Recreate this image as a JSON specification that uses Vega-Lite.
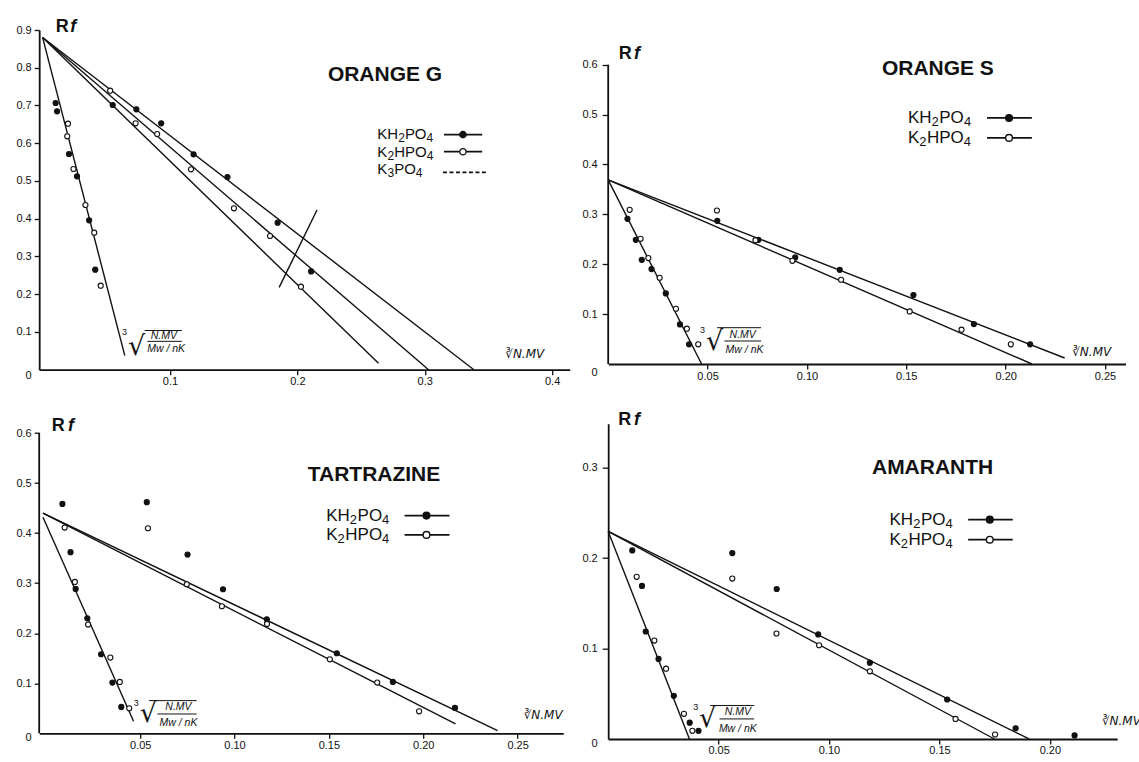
{
  "$schema": "https://vega.github.io/schema/vega-lite/v6.json",
  "padding": {"left": 15.2, "top": 17, "right": 2, "bottom": 2},
  "background": "white",
  "config": {
    "view": {"stroke": null},
    "font": "Liberation Sans",
    "axis": {"labelFont": "Liberation Sans", "labelFontSize": 11, "labelColor": "#111", "domainColor": "#111", "tickColor": "#111", "domainWidth": 1.8, "tickWidth": 1.3, "grid": false, "labelFlush": false, "labelOverlap": false, "title": null}
  },
  "datasets": {
    "points": [
      {"p":"OG","s":"KH2PO4","x":0.0102,"y":0.7066},{"p":"OG","s":"KH2PO4","x":0.0113,"y":0.6845},{"p":"OG","s":"KH2PO4","x":0.0207,"y":0.5715},{"p":"OG","s":"KH2PO4","x":0.0270,"y":0.5123},{"p":"OG","s":"KH2PO4","x":0.0365,"y":0.3957},{"p":"OG","s":"KH2PO4","x":0.0413,"y":0.265},{"p":"OG","s":"KH2PO4","x":0.0550,"y":0.7013},{"p":"OG","s":"KH2PO4","x":0.0736,"y":0.6898},{"p":"OG","s":"KH2PO4","x":0.0931,"y":0.6527},{"p":"OG","s":"KH2PO4","x":0.1185,"y":0.5706},{"p":"OG","s":"KH2PO4","x":0.1451,"y":0.5105},{"p":"OG","s":"KH2PO4","x":0.1845,"y":0.3895},{"p":"OG","s":"KH2PO4","x":0.2108,"y":0.2605},
      {"p":"OG","s":"K2HPO4","x":0.0199,"y":0.6518},{"p":"OG","s":"K2HPO4","x":0.0193,"y":0.6183},{"p":"OG","s":"K2HPO4","x":0.0242,"y":0.5317},{"p":"OG","s":"K2HPO4","x":0.0336,"y":0.4363},{"p":"OG","s":"K2HPO4","x":0.0405,"y":0.363},{"p":"OG","s":"K2HPO4","x":0.0456,"y":0.2226},{"p":"OG","s":"K2HPO4","x":0.0530,"y":0.7393},{"p":"OG","s":"K2HPO4","x":0.0730,"y":0.6527},{"p":"OG","s":"K2HPO4","x":0.0899,"y":0.6245},{"p":"OG","s":"K2HPO4","x":0.1165,"y":0.5308},{"p":"OG","s":"K2HPO4","x":0.1502,"y":0.4275},{"p":"OG","s":"K2HPO4","x":0.1785,"y":0.3542},{"p":"OG","s":"K2HPO4","x":0.2028,"y":0.2199},
      {"p":"OS","s":"KH2PO4","x":0.0097,"y":0.2911},{"p":"OS","s":"KH2PO4","x":0.0139,"y":0.2490},{"p":"OS","s":"KH2PO4","x":0.0169,"y":0.2089},{"p":"OS","s":"KH2PO4","x":0.0218,"y":0.1903},{"p":"OS","s":"KH2PO4","x":0.0290,"y":0.1415},{"p":"OS","s":"KH2PO4","x":0.0361,"y":0.0794},{"p":"OS","s":"KH2PO4","x":0.0407,"y":0.0394},{"p":"OS","s":"KH2PO4","x":0.0549,"y":0.2870},{"p":"OS","s":"KH2PO4","x":0.0756,"y":0.2490},{"p":"OS","s":"KH2PO4","x":0.0941,"y":0.2136},{"p":"OS","s":"KH2PO4","x":0.1165,"y":0.1889},{"p":"OS","s":"KH2PO4","x":0.1536,"y":0.1382},{"p":"OS","s":"KH2PO4","x":0.1840,"y":0.0801},{"p":"OS","s":"KH2PO4","x":0.2123,"y":0.0394},
      {"p":"OS","s":"K2HPO4","x":0.0108,"y":0.3091},{"p":"OS","s":"K2HPO4","x":0.0163,"y":0.2510},{"p":"OS","s":"K2HPO4","x":0.0202,"y":0.2123},{"p":"OS","s":"K2HPO4","x":0.0259,"y":0.1729},{"p":"OS","s":"K2HPO4","x":0.0341,"y":0.1108},{"p":"OS","s":"K2HPO4","x":0.0396,"y":0.0708},{"p":"OS","s":"K2HPO4","x":0.0453,"y":0.0394},{"p":"OS","s":"K2HPO4","x":0.0547,"y":0.3077},{"p":"OS","s":"K2HPO4","x":0.0741,"y":0.2483},{"p":"OS","s":"K2HPO4","x":0.0927,"y":0.2069},{"p":"OS","s":"K2HPO4","x":0.1172,"y":0.1689},{"p":"OS","s":"K2HPO4","x":0.1517,"y":0.1055},{"p":"OS","s":"K2HPO4","x":0.1778,"y":0.0688},{"p":"OS","s":"K2HPO4","x":0.2026,"y":0.0394},
      {"p":"TZ","s":"KH2PO4","x":0.0088,"y":0.4584},{"p":"TZ","s":"KH2PO4","x":0.0131,"y":0.3618},{"p":"TZ","s":"KH2PO4","x":0.0158,"y":0.2885},{"p":"TZ","s":"KH2PO4","x":0.0220,"y":0.2298},{"p":"TZ","s":"KH2PO4","x":0.0293,"y":0.1579},{"p":"TZ","s":"KH2PO4","x":0.0353,"y":0.1013},{"p":"TZ","s":"KH2PO4","x":0.0400,"y":0.0526},{"p":"TZ","s":"KH2PO4","x":0.0535,"y":0.4617},{"p":"TZ","s":"KH2PO4","x":0.0751,"y":0.3571},{"p":"TZ","s":"KH2PO4","x":0.0939,"y":0.2878},{"p":"TZ","s":"KH2PO4","x":0.1171,"y":0.2278},{"p":"TZ","s":"KH2PO4","x":0.1542,"y":0.1599},{"p":"TZ","s":"KH2PO4","x":0.1839,"y":0.1026},{"p":"TZ","s":"KH2PO4","x":0.2168,"y":0.0506},
      {"p":"TZ","s":"K2HPO4","x":0.0100,"y":0.4111},{"p":"TZ","s":"K2HPO4","x":0.0154,"y":0.3025},{"p":"TZ","s":"K2HPO4","x":0.0224,"y":0.2172},{"p":"TZ","s":"K2HPO4","x":0.0342,"y":0.1512},{"p":"TZ","s":"K2HPO4","x":0.0392,"y":0.1026},{"p":"TZ","s":"K2HPO4","x":0.0442,"y":0.0500},{"p":"TZ","s":"K2HPO4","x":0.0541,"y":0.4097},{"p":"TZ","s":"K2HPO4","x":0.0747,"y":0.2978},{"p":"TZ","s":"K2HPO4","x":0.0933,"y":0.2538},{"p":"TZ","s":"K2HPO4","x":0.1172,"y":0.2185},{"p":"TZ","s":"K2HPO4","x":0.1505,"y":0.1479},{"p":"TZ","s":"K2HPO4","x":0.1756,"y":0.1013},{"p":"TZ","s":"K2HPO4","x":0.1978,"y":0.0440},
      {"p":"AM","s":"KH2PO4","x":0.0109,"y":0.2085},{"p":"AM","s":"KH2PO4","x":0.0153,"y":0.1693},{"p":"AM","s":"KH2PO4","x":0.0170,"y":0.1189},{"p":"AM","s":"KH2PO4","x":0.0228,"y":0.0885},{"p":"AM","s":"KH2PO4","x":0.0297,"y":0.0478},{"p":"AM","s":"KH2PO4","x":0.0369,"y":0.0181},{"p":"AM","s":"KH2PO4","x":0.0409,"y":0.009},{"p":"AM","s":"KH2PO4","x":0.0562,"y":0.2056},{"p":"AM","s":"KH2PO4","x":0.0763,"y":0.1659},{"p":"AM","s":"KH2PO4","x":0.0951,"y":0.1156},{"p":"AM","s":"KH2PO4","x":0.1185,"y":0.0844},{"p":"AM","s":"KH2PO4","x":0.1535,"y":0.0437},{"p":"AM","s":"KH2PO4","x":0.1845,"y":0.0119},{"p":"AM","s":"KH2PO4","x":0.2112,"y":0.004},
      {"p":"AM","s":"K2HPO4","x":0.0129,"y":0.1793},{"p":"AM","s":"K2HPO4","x":0.0209,"y":0.1089},{"p":"AM","s":"K2HPO4","x":0.0262,"y":0.0778},{"p":"AM","s":"K2HPO4","x":0.0343,"y":0.0278},{"p":"AM","s":"K2HPO4","x":0.0381,"y":0.009},{"p":"AM","s":"K2HPO4","x":0.0562,"y":0.1774},{"p":"AM","s":"K2HPO4","x":0.0762,"y":0.1167},{"p":"AM","s":"K2HPO4","x":0.0955,"y":0.1037},{"p":"AM","s":"K2HPO4","x":0.1185,"y":0.0748},{"p":"AM","s":"K2HPO4","x":0.1573,"y":0.0222},{"p":"AM","s":"K2HPO4","x":0.1752,"y":0.005}
    ],
    "segs": [
      {"p":"OG","k":"fit","x":0,"y":0.88,"x2":0.0645,"y2":0.0371},
      {"p":"OG","k":"fit","x":0,"y":0.88,"x2":0.2637,"y2":0.0168},
      {"p":"OG","k":"fit","x":0,"y":0.88,"x2":0.303,"y2":0},
      {"p":"OG","k":"fit","x":0,"y":0.88,"x2":0.3386,"y2":0},
      {"p":"OG","k":"fit","x":0.1857,"y":0.2182,"x2":0.2154,"y2":0.4231},
      {"p":"OG","k":"frac","x":0.0822,"y":0.0751,"x2":0.1093,"y2":0.0751},
      {"p":"OG","k":"frac","x":0.0800,"y":0.1038,"x2":0.1093,"y2":0.1038},
      {"p":"OG","k":"leg","x":0.3151,"y":0.6227,"x2":0.3451,"y2":0.6227},
      {"p":"OG","k":"leg","x":0.3151,"y":0.5776,"x2":0.3451,"y2":0.5776},
      {"p":"OG","k":"dash","x":0.3143,"y":0.5229,"x2":0.3480,"y2":0.5229},
      {"p":"OS","k":"fit","x":0,"y":0.3692,"x2":0.047,"y2":0},
      {"p":"OS","k":"fit","x":0,"y":0.3692,"x2":0.2297,"y2":0.012},
      {"p":"OS","k":"fit","x":0,"y":0.3692,"x2":0.2132,"y2":0},
      {"p":"OS","k":"axis","x":0,"y":0,"x2":0,"y2":0.6},
      {"p":"OS","k":"frac","x":0.0585,"y":0.0461,"x2":0.0769,"y2":0.0461},
      {"p":"OS","k":"frac","x":0.0548,"y":0.0728,"x2":0.0769,"y2":0.0728},
      {"p":"OS","k":"leg","x":0.1906,"y":0.4933,"x2":0.2132,"y2":0.4933},
      {"p":"OS","k":"leg","x":0.1906,"y":0.4533,"x2":0.2132,"y2":0.4533},
      {"p":"TZ","k":"fit","x":-0.0015,"y":0.4397,"x2":0.2394,"y2":0.0053},
      {"p":"TZ","k":"fit","x":-0.0015,"y":0.4397,"x2":0.2171,"y2":0.0187},
      {"p":"TZ","k":"fit","x":-0.0015,"y":0.4317,"x2":0.0465,"y2":0.024},
      {"p":"TZ","k":"axis","x":-0.0035,"y":0,"x2":-0.0035,"y2":0.6},
      {"p":"TZ","k":"frac","x":0.0591,"y":0.0386,"x2":0.0799,"y2":0.0386},
      {"p":"TZ","k":"frac","x":0.0547,"y":0.0653,"x2":0.0799,"y2":0.0653},
      {"p":"TZ","k":"leg","x":0.1901,"y":0.435,"x2":0.2139,"y2":0.435},
      {"p":"TZ","k":"leg","x":0.1901,"y":0.3964,"x2":0.2139,"y2":0.3964},
      {"p":"AM","k":"fit","x":0,"y":0.2296,"x2":0.0368,"y2":0},
      {"p":"AM","k":"fit","x":0,"y":0.2296,"x2":0.1906,"y2":0},
      {"p":"AM","k":"fit","x":0,"y":0.2296,"x2":0.1749,"y2":0},
      {"p":"AM","k":"frac","x":0.0504,"y":0.0222,"x2":0.0661,"y2":0.0222},
      {"p":"AM","k":"frac","x":0.0462,"y":0.037,"x2":0.0661,"y2":0.037},
      {"p":"AM","k":"leg","x":0.163,"y":0.2426,"x2":0.1832,"y2":0.2426},
      {"p":"AM","k":"leg","x":0.163,"y":0.2204,"x2":0.1832,"y2":0.2204}
    ],
    "legsym": [
      {"p":"OG","s":"KH2PO4","x":0.33,"y":0.6227},{"p":"OG","s":"K2HPO4","x":0.33,"y":0.5776},
      {"p":"OS","s":"KH2PO4","x":0.2017,"y":0.4933},{"p":"OS","s":"K2HPO4","x":0.2017,"y":0.4533},
      {"p":"TZ","s":"KH2PO4","x":0.2017,"y":0.435},{"p":"TZ","s":"K2HPO4","x":0.2017,"y":0.3964},
      {"p":"AM","s":"KH2PO4","x":0.1728,"y":0.2426},{"p":"AM","s":"K2HPO4","x":0.1728,"y":0.2204}
    ],
    "labels": [
      {"p":"OG","k":"title","x":0.2688,"y":0.7817,"t":"ORANGE G"},
      {"p":"OG","k":"leg","x":0.2628,"y":0.6245,"t":"KH"},{"p":"OG","k":"sub","x":0.2791,"y":0.6245,"t":"2"},{"p":"OG","k":"leg","x":0.2844,"y":0.6245,"t":"PO"},{"p":"OG","k":"sub","x":0.3014,"y":0.6245,"t":"4"},
      {"p":"OG","k":"leg","x":0.2628,"y":0.5759,"t":"K"},{"p":"OG","k":"sub","x":0.2707,"y":0.5759,"t":"2"},{"p":"OG","k":"leg","x":0.2760,"y":0.5759,"t":"HPO"},{"p":"OG","k":"sub","x":0.3015,"y":0.5759,"t":"4"},
      {"p":"OG","k":"leg","x":0.2628,"y":0.5317,"t":"K"},{"p":"OG","k":"sub","x":0.2707,"y":0.5317,"t":"3"},{"p":"OG","k":"leg","x":0.2760,"y":0.5317,"t":"PO"},{"p":"OG","k":"sub","x":0.2930,"y":0.5317,"t":"4"},
      {"p":"OG","k":"R","x":0.0102,"y":0.9088,"t":"R"},
      {"p":"OG","k":"f","x":0.0216,"y":0.9088,"t":"f"},
      {"p":"OG","k":"var","x":0.3785,"y":0.0424,"t":"∛N.MV"},
      {"p":"OG","k":"rad","x":0.0737,"y":0.060,"t":"√"},
      {"p":"OG","k":"sup","x":0.0643,"y":0.0988,"t":"3"},
      {"p":"OG","k":"frac","x":0.0951,"y":0.0901,"t":"N.MV"},
      {"p":"OG","k":"frac","x":0.0970,"y":0.0548,"t":"Mw / nK"},
      {"p":"OS","k":"title","x":0.1659,"y":0.5915,"t":"ORANGE S"},
      {"p":"OS","k":"leg","x":0.1508,"y":0.4933,"t":"KH"},{"p":"OS","k":"sub","x":0.1627,"y":0.4933,"t":"2"},{"p":"OS","k":"leg","x":0.1666,"y":0.4933,"t":"PO"},{"p":"OS","k":"sub","x":0.1790,"y":0.4933,"t":"4"},
      {"p":"OS","k":"leg","x":0.1508,"y":0.4533,"t":"K"},{"p":"OS","k":"sub","x":0.1565,"y":0.4533,"t":"2"},{"p":"OS","k":"leg","x":0.1604,"y":0.4533,"t":"HPO"},{"p":"OS","k":"sub","x":0.1789,"y":0.4533,"t":"4"},
      {"p":"OS","k":"R","x":0.0053,"y":0.6215,"t":"R"},
      {"p":"OS","k":"f","x":0.0130,"y":0.6215,"t":"f"},
      {"p":"OS","k":"var","x":0.2433,"y":0.024,"t":"∛N.MV"},
      {"p":"OS","k":"rad","x":0.0535,"y":0.0441,"t":"√"},
      {"p":"OS","k":"sup","x":0.0475,"y":0.0674,"t":"3"},
      {"p":"OS","k":"frac","x":0.0677,"y":0.0574,"t":"N.MV"},
      {"p":"OS","k":"frac","x":0.0686,"y":0.0287,"t":"Mw / nK"},
      {"p":"TZ","k":"title","x":0.1739,"y":0.5163,"t":"TARTRAZINE"},
      {"p":"TZ","k":"leg","x":0.1486,"y":0.435,"t":"KH"},{"p":"TZ","k":"sub","x":0.1611,"y":0.435,"t":"2"},{"p":"TZ","k":"leg","x":0.1652,"y":0.435,"t":"PO"},{"p":"TZ","k":"sub","x":0.1782,"y":0.435,"t":"4"},
      {"p":"TZ","k":"leg","x":0.1486,"y":0.3964,"t":"K"},{"p":"TZ","k":"sub","x":0.1546,"y":0.3964,"t":"2"},{"p":"TZ","k":"leg","x":0.1587,"y":0.3964,"t":"HPO"},{"p":"TZ","k":"sub","x":0.1782,"y":0.3964,"t":"4"},
      {"p":"TZ","k":"R","x":0.0032,"y":0.6136,"t":"R"},
      {"p":"TZ","k":"f","x":0.0117,"y":0.6136,"t":"f"},
      {"p":"TZ","k":"var","x":0.2635,"y":0.0366,"t":"∛N.MV"},
      {"p":"TZ","k":"rad","x":0.0543,"y":0.0386,"t":"√"},
      {"p":"TZ","k":"sup","x":0.0479,"y":0.06,"t":"3"},
      {"p":"TZ","k":"frac","x":0.0703,"y":0.052,"t":"N.MV"},
      {"p":"TZ","k":"frac","x":0.0703,"y":0.0207,"t":"Mw / nK"},
      {"p":"AM","k":"title","x":0.1469,"y":0.30,"t":"AMARANTH"},
      {"p":"AM","k":"leg","x":0.1274,"y":0.2426,"t":"KH"},{"p":"AM","k":"sub","x":0.1381,"y":0.2426,"t":"2"},{"p":"AM","k":"leg","x":0.1416,"y":0.2426,"t":"PO"},{"p":"AM","k":"sub","x":0.1527,"y":0.2426,"t":"4"},
      {"p":"AM","k":"leg","x":0.1274,"y":0.2204,"t":"K"},{"p":"AM","k":"sub","x":0.1325,"y":0.2204,"t":"2"},{"p":"AM","k":"leg","x":0.1360,"y":0.2204,"t":"HPO"},{"p":"AM","k":"sub","x":0.1527,"y":0.2204,"t":"4"},
      {"p":"AM","k":"R","x":0.0046,"y":0.353,"t":"R"},
      {"p":"AM","k":"f","x":0.0117,"y":0.353,"t":"f"},
      {"p":"AM","k":"var","x":0.2324,"y":0.0204,"t":"∛N.MV"},
      {"p":"AM","k":"rad","x":0.0450,"y":0.0222,"t":"√"},
      {"p":"AM","k":"sup","x":0.0396,"y":0.0352,"t":"3"},
      {"p":"AM","k":"frac","x":0.0587,"y":0.0296,"t":"N.MV"},
      {"p":"AM","k":"frac","x":0.0587,"y":0.0111,"t":"Mw / nK"}
    ]
  },
  "columns": 2,
  "spacing": {"row": 53.7, "column": 38},
  "bounds": "flush",
  "align": "each",
  "concat": [
    {
      "width": 530.5, "height": 339.7,
      "encoding": {
        "x": {"field": "x", "type": "quantitative", "scale": {"domain": [-0.0027, 0.4138], "nice": false, "zero": false},
              "axis": {"values": [0.1, 0.2, 0.3, 0.4], "format": ".1f", "tickSize": 5, "labelPadding": 1}},
        "y": {"field": "y", "type": "quantitative", "scale": {"domain": [0, 0.9], "nice": false, "zero": false},
              "axis": {"values": [0, 0.1, 0.2, 0.3, 0.4, 0.5, 0.6, 0.7, 0.8, 0.9], "labelExpr": "datum.value === 0 ? '0' : format(datum.value, '.1f')", "tickSize": 5, "labelPadding": 3,
                       "labelOffset": {"condition": {"test": "datum.value === 0", "value": 6}, "value": 0},
                       "tickOpacity": {"condition": {"test": "datum.value === 0", "value": 0}, "value": 1}}}
      },
      "layer": [
        {"data": {"name": "segs"}, "transform": [{"filter": "datum.p === 'OG' && datum.k === 'fit'"}], "mark": {"type": "rule", "strokeWidth": 1.4, "color": "#111"}, "encoding": {"x2": {"field": "x2"}, "y2": {"field": "y2"}}},
        {"data": {"name": "segs"}, "transform": [{"filter": "datum.p === 'OG' && datum.k === 'frac'"}], "mark": {"type": "rule", "strokeWidth": 1, "color": "#111"}, "encoding": {"x2": {"field": "x2"}, "y2": {"field": "y2"}}},
        {"data": {"name": "segs"}, "transform": [{"filter": "datum.p === 'OG' && datum.k === 'leg'"}], "mark": {"type": "rule", "strokeWidth": 1.8, "color": "#111"}, "encoding": {"x2": {"field": "x2"}, "y2": {"field": "y2"}}},
        {"data": {"name": "segs"}, "transform": [{"filter": "datum.p === 'OG' && datum.k === 'dash'"}], "mark": {"type": "rule", "strokeWidth": 1.6, "strokeDash": [4, 2.5], "color": "#111"}, "encoding": {"x2": {"field": "x2"}, "y2": {"field": "y2"}}},
        {"data": {"name": "points"}, "transform": [{"filter": "datum.p === 'OG'"}], "mark": {"type": "circle", "size": 26, "stroke": "#111", "strokeWidth": 1.1, "opacity": 1}, "encoding": {"fill": {"field": "s", "type": "nominal", "scale": {"domain": ["KH2PO4", "K2HPO4"], "range": ["#111111", "#ffffff"]}, "legend": null}}},
        {"data": {"name": "legsym"}, "transform": [{"filter": "datum.p === 'OG'"}], "mark": {"type": "circle", "size": 40, "stroke": "#111", "strokeWidth": 1.3, "opacity": 1}, "encoding": {"fill": {"field": "s", "type": "nominal", "scale": {"domain": ["KH2PO4", "K2HPO4"], "range": ["#111111", "#ffffff"]}, "legend": null}}},
        {"data": {"name": "labels"}, "transform": [{"filter": "datum.p === 'OG' && datum.k === 'title'"}], "mark": {"type": "text", "font": "Liberation Sans", "fontWeight": "bold", "fontSize": 21, "align": "center", "baseline": "middle", "color": "#111"}, "encoding": {"text": {"field": "t"}}},
        {"data": {"name": "labels"}, "transform": [{"filter": "datum.p === 'OG' && datum.k === 'leg'"}], "mark": {"type": "text", "font": "Liberation Sans", "fontSize": 15, "align": "left", "baseline": "middle", "color": "#111"}, "encoding": {"text": {"field": "t"}}},
        {"data": {"name": "labels"}, "transform": [{"filter": "datum.p === 'OG' && datum.k === 'sub'"}], "mark": {"type": "text", "font": "Liberation Sans", "fontSize": 12, "align": "left", "baseline": "middle", "dy": 4, "color": "#111"}, "encoding": {"text": {"field": "t"}}},
        {"data": {"name": "labels"}, "transform": [{"filter": "datum.p === 'OG' && datum.k === 'R'"}], "mark": {"type": "text", "font": "Liberation Sans", "fontWeight": "bold", "fontSize": 18, "align": "left", "baseline": "middle", "color": "#111"}, "encoding": {"text": {"field": "t"}}},
        {"data": {"name": "labels"}, "transform": [{"filter": "datum.p === 'OG' && datum.k === 'f'"}], "mark": {"type": "text", "font": "Liberation Sans", "fontWeight": "bold", "fontStyle": "italic", "fontSize": 18, "align": "left", "baseline": "middle", "color": "#111"}, "encoding": {"text": {"field": "t"}}},
        {"data": {"name": "labels"}, "transform": [{"filter": "datum.p === 'OG' && datum.k === 'var'"}], "mark": {"type": "text", "font": "DejaVu Sans", "fontStyle": "italic", "fontSize": 12, "align": "center", "baseline": "middle", "color": "#111"}, "encoding": {"text": {"field": "t"}}},
        {"data": {"name": "labels"}, "transform": [{"filter": "datum.p === 'OG' && datum.k === 'rad'"}], "mark": {"type": "text", "font": "DejaVu Sans", "fontSize": 27, "align": "center", "baseline": "middle", "color": "#111"}, "encoding": {"text": {"field": "t"}}},
        {"data": {"name": "labels"}, "transform": [{"filter": "datum.p === 'OG' && datum.k === 'sup'"}], "mark": {"type": "text", "font": "Liberation Sans", "fontSize": 9, "align": "center", "baseline": "middle", "color": "#111"}, "encoding": {"text": {"field": "t"}}},
        {"data": {"name": "labels"}, "transform": [{"filter": "datum.p === 'OG' && datum.k === 'frac'"}], "mark": {"type": "text", "font": "Liberation Sans", "fontStyle": "italic", "fontSize": 10.5, "align": "center", "baseline": "middle", "color": "#111"}, "encoding": {"text": {"field": "t"}}}
      ]
    },
    {
      "width": 517.3, "height": 334,
      "encoding": {
        "x": {"field": "x", "type": "quantitative", "scale": {"domain": [0, 0.2603], "nice": false, "zero": false},
              "axis": {"values": [0.05, 0.1, 0.15, 0.2, 0.25], "format": ".2f", "tickSize": 5, "labelPadding": 2}},
        "y": {"field": "y", "type": "quantitative", "scale": {"domain": [0, 0.6696], "nice": false, "zero": false},
              "axis": {"values": [0, 0.1, 0.2, 0.3, 0.4, 0.5, 0.6], "labelExpr": "datum.value === 0 ? '0' : format(datum.value, '.1f')", "domain": false, "tickSize": 6, "labelPadding": 5,
                       "labelOffset": {"condition": {"test": "datum.value === 0", "value": 8}, "value": 0},
                       "tickOpacity": {"condition": {"test": "datum.value === 0", "value": 0}, "value": 1}}}
      },
      "layer": [
        {"data": {"name": "segs"}, "transform": [{"filter": "datum.p === 'OS' && datum.k === 'axis'"}], "mark": {"type": "rule", "strokeWidth": 1.8, "color": "#111"}, "encoding": {"x2": {"field": "x2"}, "y2": {"field": "y2"}}},
        {"data": {"name": "segs"}, "transform": [{"filter": "datum.p === 'OS' && datum.k === 'fit'"}], "mark": {"type": "rule", "strokeWidth": 1.4, "color": "#111"}, "encoding": {"x2": {"field": "x2"}, "y2": {"field": "y2"}}},
        {"data": {"name": "segs"}, "transform": [{"filter": "datum.p === 'OS' && datum.k === 'frac'"}], "mark": {"type": "rule", "strokeWidth": 1, "color": "#111"}, "encoding": {"x2": {"field": "x2"}, "y2": {"field": "y2"}}},
        {"data": {"name": "segs"}, "transform": [{"filter": "datum.p === 'OS' && datum.k === 'leg'"}], "mark": {"type": "rule", "strokeWidth": 1.8, "color": "#111"}, "encoding": {"x2": {"field": "x2"}, "y2": {"field": "y2"}}},
        {"data": {"name": "points"}, "transform": [{"filter": "datum.p === 'OS'"}], "mark": {"type": "circle", "size": 26, "stroke": "#111", "strokeWidth": 1.1, "opacity": 1}, "encoding": {"fill": {"field": "s", "type": "nominal", "scale": {"domain": ["KH2PO4", "K2HPO4"], "range": ["#111111", "#ffffff"]}, "legend": null}}},
        {"data": {"name": "legsym"}, "transform": [{"filter": "datum.p === 'OS'"}], "mark": {"type": "circle", "size": 45, "stroke": "#111", "strokeWidth": 1.4, "opacity": 1}, "encoding": {"fill": {"field": "s", "type": "nominal", "scale": {"domain": ["KH2PO4", "K2HPO4"], "range": ["#111111", "#ffffff"]}, "legend": null}}},
        {"data": {"name": "labels"}, "transform": [{"filter": "datum.p === 'OS' && datum.k === 'title'"}], "mark": {"type": "text", "font": "Liberation Sans", "fontWeight": "bold", "fontSize": 21, "align": "center", "baseline": "middle", "color": "#111"}, "encoding": {"text": {"field": "t"}}},
        {"data": {"name": "labels"}, "transform": [{"filter": "datum.p === 'OS' && datum.k === 'leg'"}], "mark": {"type": "text", "font": "Liberation Sans", "fontSize": 17, "align": "left", "baseline": "middle", "color": "#111"}, "encoding": {"text": {"field": "t"}}},
        {"data": {"name": "labels"}, "transform": [{"filter": "datum.p === 'OS' && datum.k === 'sub'"}], "mark": {"type": "text", "font": "Liberation Sans", "fontSize": 13, "align": "left", "baseline": "middle", "dy": 4, "color": "#111"}, "encoding": {"text": {"field": "t"}}},
        {"data": {"name": "labels"}, "transform": [{"filter": "datum.p === 'OS' && datum.k === 'R'"}], "mark": {"type": "text", "font": "Liberation Sans", "fontWeight": "bold", "fontSize": 18, "align": "left", "baseline": "middle", "color": "#111"}, "encoding": {"text": {"field": "t"}}},
        {"data": {"name": "labels"}, "transform": [{"filter": "datum.p === 'OS' && datum.k === 'f'"}], "mark": {"type": "text", "font": "Liberation Sans", "fontWeight": "bold", "fontStyle": "italic", "fontSize": 18, "align": "left", "baseline": "middle", "color": "#111"}, "encoding": {"text": {"field": "t"}}},
        {"data": {"name": "labels"}, "transform": [{"filter": "datum.p === 'OS' && datum.k === 'var'"}], "mark": {"type": "text", "font": "DejaVu Sans", "fontStyle": "italic", "fontSize": 12, "align": "center", "baseline": "middle", "color": "#111"}, "encoding": {"text": {"field": "t"}}},
        {"data": {"name": "labels"}, "transform": [{"filter": "datum.p === 'OS' && datum.k === 'rad'"}], "mark": {"type": "text", "font": "DejaVu Sans", "fontSize": 27, "align": "center", "baseline": "middle", "color": "#111"}, "encoding": {"text": {"field": "t"}}},
        {"data": {"name": "labels"}, "transform": [{"filter": "datum.p === 'OS' && datum.k === 'sup'"}], "mark": {"type": "text", "font": "Liberation Sans", "fontSize": 9, "align": "center", "baseline": "middle", "color": "#111"}, "encoding": {"text": {"field": "t"}}},
        {"data": {"name": "labels"}, "transform": [{"filter": "datum.p === 'OS' && datum.k === 'frac'"}], "mark": {"type": "text", "font": "Liberation Sans", "fontStyle": "italic", "fontSize": 10.5, "align": "center", "baseline": "middle", "color": "#111"}, "encoding": {"text": {"field": "t"}}}
      ]
    },
    {
      "width": 524.1, "height": 309.6,
      "encoding": {
        "x": {"field": "x", "type": "quantitative", "scale": {"domain": [-0.0035, 0.2742], "nice": false, "zero": false},
              "axis": {"values": [0.05, 0.1, 0.15, 0.2, 0.25], "format": ".2f", "tickSize": 5, "labelPadding": 1}},
        "y": {"field": "y", "type": "quantitative", "scale": {"domain": [0, 0.6186], "nice": false, "zero": false},
              "axis": {"values": [0, 0.1, 0.2, 0.3, 0.4, 0.5, 0.6], "labelExpr": "datum.value === 0 ? '0' : format(datum.value, '.1f')", "domain": false, "tickSize": 5, "labelPadding": 3,
                       "labelOffset": {"condition": {"test": "datum.value === 0", "value": 4}, "value": 0},
                       "tickOpacity": {"condition": {"test": "datum.value === 0", "value": 0}, "value": 1}}}
      },
      "layer": [
        {"data": {"name": "segs"}, "transform": [{"filter": "datum.p === 'TZ' && datum.k === 'axis'"}], "mark": {"type": "rule", "strokeWidth": 1.8, "color": "#111"}, "encoding": {"x2": {"field": "x2"}, "y2": {"field": "y2"}}},
        {"data": {"name": "segs"}, "transform": [{"filter": "datum.p === 'TZ' && datum.k === 'fit'"}], "mark": {"type": "rule", "strokeWidth": 1.4, "color": "#111"}, "encoding": {"x2": {"field": "x2"}, "y2": {"field": "y2"}}},
        {"data": {"name": "segs"}, "transform": [{"filter": "datum.p === 'TZ' && datum.k === 'frac'"}], "mark": {"type": "rule", "strokeWidth": 1, "color": "#111"}, "encoding": {"x2": {"field": "x2"}, "y2": {"field": "y2"}}},
        {"data": {"name": "segs"}, "transform": [{"filter": "datum.p === 'TZ' && datum.k === 'leg'"}], "mark": {"type": "rule", "strokeWidth": 1.8, "color": "#111"}, "encoding": {"x2": {"field": "x2"}, "y2": {"field": "y2"}}},
        {"data": {"name": "points"}, "transform": [{"filter": "datum.p === 'TZ'"}], "mark": {"type": "circle", "size": 26, "stroke": "#111", "strokeWidth": 1.1, "opacity": 1}, "encoding": {"fill": {"field": "s", "type": "nominal", "scale": {"domain": ["KH2PO4", "K2HPO4"], "range": ["#111111", "#ffffff"]}, "legend": null}}},
        {"data": {"name": "legsym"}, "transform": [{"filter": "datum.p === 'TZ'"}], "mark": {"type": "circle", "size": 45, "stroke": "#111", "strokeWidth": 1.4, "opacity": 1}, "encoding": {"fill": {"field": "s", "type": "nominal", "scale": {"domain": ["KH2PO4", "K2HPO4"], "range": ["#111111", "#ffffff"]}, "legend": null}}},
        {"data": {"name": "labels"}, "transform": [{"filter": "datum.p === 'TZ' && datum.k === 'title'"}], "mark": {"type": "text", "font": "Liberation Sans", "fontWeight": "bold", "fontSize": 21, "align": "center", "baseline": "middle", "color": "#111"}, "encoding": {"text": {"field": "t"}}},
        {"data": {"name": "labels"}, "transform": [{"filter": "datum.p === 'TZ' && datum.k === 'leg'"}], "mark": {"type": "text", "font": "Liberation Sans", "fontSize": 17, "align": "left", "baseline": "middle", "color": "#111"}, "encoding": {"text": {"field": "t"}}},
        {"data": {"name": "labels"}, "transform": [{"filter": "datum.p === 'TZ' && datum.k === 'sub'"}], "mark": {"type": "text", "font": "Liberation Sans", "fontSize": 13, "align": "left", "baseline": "middle", "dy": 4, "color": "#111"}, "encoding": {"text": {"field": "t"}}},
        {"data": {"name": "labels"}, "transform": [{"filter": "datum.p === 'TZ' && datum.k === 'R'"}], "mark": {"type": "text", "font": "Liberation Sans", "fontWeight": "bold", "fontSize": 18, "align": "left", "baseline": "middle", "color": "#111"}, "encoding": {"text": {"field": "t"}}},
        {"data": {"name": "labels"}, "transform": [{"filter": "datum.p === 'TZ' && datum.k === 'f'"}], "mark": {"type": "text", "font": "Liberation Sans", "fontWeight": "bold", "fontStyle": "italic", "fontSize": 18, "align": "left", "baseline": "middle", "color": "#111"}, "encoding": {"text": {"field": "t"}}},
        {"data": {"name": "labels"}, "transform": [{"filter": "datum.p === 'TZ' && datum.k === 'var'"}], "mark": {"type": "text", "font": "DejaVu Sans", "fontStyle": "italic", "fontSize": 12, "align": "center", "baseline": "middle", "color": "#111"}, "encoding": {"text": {"field": "t"}}},
        {"data": {"name": "labels"}, "transform": [{"filter": "datum.p === 'TZ' && datum.k === 'rad'"}], "mark": {"type": "text", "font": "DejaVu Sans", "fontSize": 27, "align": "center", "baseline": "middle", "color": "#111"}, "encoding": {"text": {"field": "t"}}},
        {"data": {"name": "labels"}, "transform": [{"filter": "datum.p === 'TZ' && datum.k === 'sup'"}], "mark": {"type": "text", "font": "Liberation Sans", "fontSize": 9, "align": "center", "baseline": "middle", "color": "#111"}, "encoding": {"text": {"field": "t"}}},
        {"data": {"name": "labels"}, "transform": [{"filter": "datum.p === 'TZ' && datum.k === 'frac'"}], "mark": {"type": "text", "font": "Liberation Sans", "fontStyle": "italic", "fontSize": 10.5, "align": "center", "baseline": "middle", "color": "#111"}, "encoding": {"text": {"field": "t"}}}
      ]
    },
    {
      "width": 509, "height": 315.3,
      "encoding": {
        "x": {"field": "x", "type": "quantitative", "scale": {"domain": [0, 0.2305], "nice": false, "zero": false},
              "axis": {"values": [0.05, 0.1, 0.15, 0.2], "format": ".2f", "tickSize": 5, "labelPadding": 1}},
        "y": {"field": "y", "type": "quantitative", "scale": {"domain": [0, 0.3487], "nice": false, "zero": false},
              "axis": {"values": [0, 0.1, 0.2, 0.3], "labelExpr": "datum.value === 0 ? '0' : format(datum.value, '.1f')", "tickSize": 6, "labelPadding": 5,
                       "labelOffset": {"condition": {"test": "datum.value === 0", "value": 5}, "value": 0},
                       "tickOpacity": {"condition": {"test": "datum.value === 0", "value": 0}, "value": 1}}}
      },
      "layer": [
        {"data": {"name": "segs"}, "transform": [{"filter": "datum.p === 'AM' && datum.k === 'fit'"}], "mark": {"type": "rule", "strokeWidth": 1.4, "color": "#111"}, "encoding": {"x2": {"field": "x2"}, "y2": {"field": "y2"}}},
        {"data": {"name": "segs"}, "transform": [{"filter": "datum.p === 'AM' && datum.k === 'frac'"}], "mark": {"type": "rule", "strokeWidth": 1, "color": "#111"}, "encoding": {"x2": {"field": "x2"}, "y2": {"field": "y2"}}},
        {"data": {"name": "segs"}, "transform": [{"filter": "datum.p === 'AM' && datum.k === 'leg'"}], "mark": {"type": "rule", "strokeWidth": 1.8, "color": "#111"}, "encoding": {"x2": {"field": "x2"}, "y2": {"field": "y2"}}},
        {"data": {"name": "points"}, "transform": [{"filter": "datum.p === 'AM'"}], "mark": {"type": "circle", "size": 26, "stroke": "#111", "strokeWidth": 1.1, "opacity": 1}, "encoding": {"fill": {"field": "s", "type": "nominal", "scale": {"domain": ["KH2PO4", "K2HPO4"], "range": ["#111111", "#ffffff"]}, "legend": null}}},
        {"data": {"name": "legsym"}, "transform": [{"filter": "datum.p === 'AM'"}], "mark": {"type": "circle", "size": 45, "stroke": "#111", "strokeWidth": 1.4, "opacity": 1}, "encoding": {"fill": {"field": "s", "type": "nominal", "scale": {"domain": ["KH2PO4", "K2HPO4"], "range": ["#111111", "#ffffff"]}, "legend": null}}},
        {"data": {"name": "labels"}, "transform": [{"filter": "datum.p === 'AM' && datum.k === 'title'"}], "mark": {"type": "text", "font": "Liberation Sans", "fontWeight": "bold", "fontSize": 21, "align": "center", "baseline": "middle", "color": "#111"}, "encoding": {"text": {"field": "t"}}},
        {"data": {"name": "labels"}, "transform": [{"filter": "datum.p === 'AM' && datum.k === 'leg'"}], "mark": {"type": "text", "font": "Liberation Sans", "fontSize": 17, "align": "left", "baseline": "middle", "color": "#111"}, "encoding": {"text": {"field": "t"}}},
        {"data": {"name": "labels"}, "transform": [{"filter": "datum.p === 'AM' && datum.k === 'sub'"}], "mark": {"type": "text", "font": "Liberation Sans", "fontSize": 13, "align": "left", "baseline": "middle", "dy": 4, "color": "#111"}, "encoding": {"text": {"field": "t"}}},
        {"data": {"name": "labels"}, "transform": [{"filter": "datum.p === 'AM' && datum.k === 'R'"}], "mark": {"type": "text", "font": "Liberation Sans", "fontWeight": "bold", "fontSize": 18, "align": "left", "baseline": "middle", "color": "#111"}, "encoding": {"text": {"field": "t"}}},
        {"data": {"name": "labels"}, "transform": [{"filter": "datum.p === 'AM' && datum.k === 'f'"}], "mark": {"type": "text", "font": "Liberation Sans", "fontWeight": "bold", "fontStyle": "italic", "fontSize": 18, "align": "left", "baseline": "middle", "color": "#111"}, "encoding": {"text": {"field": "t"}}},
        {"data": {"name": "labels"}, "transform": [{"filter": "datum.p === 'AM' && datum.k === 'var'"}], "mark": {"type": "text", "font": "DejaVu Sans", "fontStyle": "italic", "fontSize": 12, "align": "center", "baseline": "middle", "color": "#111"}, "encoding": {"text": {"field": "t"}}},
        {"data": {"name": "labels"}, "transform": [{"filter": "datum.p === 'AM' && datum.k === 'rad'"}], "mark": {"type": "text", "font": "DejaVu Sans", "fontSize": 27, "align": "center", "baseline": "middle", "color": "#111"}, "encoding": {"text": {"field": "t"}}},
        {"data": {"name": "labels"}, "transform": [{"filter": "datum.p === 'AM' && datum.k === 'sup'"}], "mark": {"type": "text", "font": "Liberation Sans", "fontSize": 9, "align": "center", "baseline": "middle", "color": "#111"}, "encoding": {"text": {"field": "t"}}},
        {"data": {"name": "labels"}, "transform": [{"filter": "datum.p === 'AM' && datum.k === 'frac'"}], "mark": {"type": "text", "font": "Liberation Sans", "fontStyle": "italic", "fontSize": 10.5, "align": "center", "baseline": "middle", "color": "#111"}, "encoding": {"text": {"field": "t"}}}
      ]
    }
  ]
}
